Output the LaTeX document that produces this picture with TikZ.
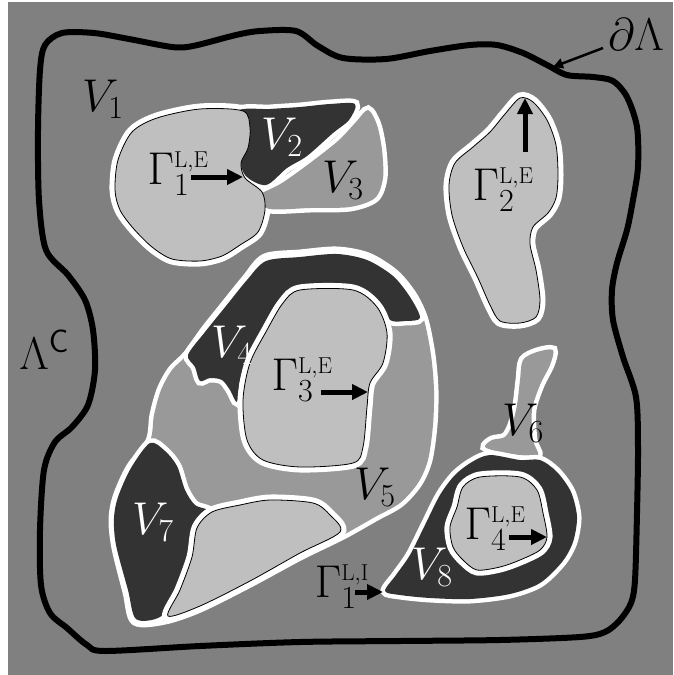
\RequirePackage{fix-cm}
\documentclass[tikz,border=0pt]{standalone}
\usetikzlibrary{arrows.meta}

\definecolor{bggray}{gray}{0.5}
\definecolor{lightgr}{gray}{0.75}
\definecolor{midgr}{gray}{0.6}
\definecolor{darkgr}{gray}{0.2}

% outlines of the regions (pixel coordinates, y downwards)
\def\pBd{plot[smooth cycle, tension=0.5] coordinates {(40,70) (45,45) (62,33) (94,33) (129,39) (172,47) (193,46) (236,35) (260,31) (296,31) (318,46) (343,58) (386,59) (430,51) (470,45) (497,45) (523,53) (547,65) (567,75) (593,77) (613,81) (627,97) (637,127) (638,167) (633,200) (627,230) (617,263) (612,290) (613,320) (623,357) (636,397) (638,447) (637,513) (635,580) (631,603) (620,620) (605,632) (580,637) (500,640) (400,641) (300,642) (200,646) (105,651) (87,645) (67,628) (50,613) (41,585) (40,530) (44,470) (55,442) (72,427) (88,405) (95,370) (93,330) (85,300) (68,275) (46,250) (39,200) (38,130)}}
\def\pGi{plot[smooth cycle] coordinates {(115,190) (118,160) (132,132) (157,118) (200,109) (243,111) (250,128) (248,148) (241,163) (245,178) (262,192) (265,210) (258,232) (240,245) (222,256) (200,261) (172,259) (152,247) (133,228) (120,210)}}
\def\pVii{plot[smooth cycle] coordinates {(236,112) (270,109) (300,107) (330,104) (355,104) (349,120) (333,133) (307,156) (287,168) (266,185) (245,175) (238,150)}}
\def\pViii{plot[smooth cycle] coordinates {(255,198) (282,183) (310,163) (338,141) (356,122) (368,110) (377,125) (382,150) (383,178) (375,198) (350,207) (310,208) (270,209)}}
\def\pGii{plot[smooth cycle] coordinates {(520,98) (533,102) (547,120) (556,145) (558,175) (556,198) (548,213) (533,227) (530,244) (536,270) (540,300) (536,317) (520,323) (500,321) (490,305) (478,278) (463,247) (452,215) (449,185) (455,163) (473,147) (490,132) (505,114)}}
\def\pVv{plot[smooth cycle] coordinates {(265,258) (300,254) (337,251) (368,257) (395,274) (413,296) (424,320) (431,355) (434,390) (433,425) (428,460) (418,483) (400,503) (375,517) (343,535) (300,556) (250,583) (200,608) (165,620) (135,621) (127,592) (116,548) (113,520) (117,497) (130,468) (150,441) (154,415) (161,390) (172,370) (187,355) (205,330) (225,305) (246,279)}}
\def\pViv{plot[smooth cycle] coordinates {(188,355) (205,332) (226,306) (247,280) (266,261) (300,257) (337,254) (367,260) (393,276) (410,297) (420,318) (405,321) (390,320) (378,301) (355,288) (300,287) (277,303) (260,333) (247,360) (240,380) (237,402) (230,390) (222,380) (210,378) (200,381) (195,367)}}
\def\pGiii{plot[smooth cycle] coordinates {(300,290) (353,290) (377,307) (387,333) (383,363) (370,383) (367,407) (363,447) (353,463) (300,467) (263,460) (247,440) (243,400) (250,363) (267,330) (283,303)}}
\def\pVvii{plot[smooth cycle] coordinates {(150,443) (165,451) (177,466) (185,490) (195,505) (210,512) (196,530) (190,560) (176,595) (160,617) (136,619) (128,590) (116,545) (114,518) (118,497) (131,468)}}
\def\pLb{plot[smooth cycle] coordinates {(212,512) (240,505) (270,500) (313,503) (330,515) (340,532) (300,553) (250,581) (200,606) (168,616) (180,590) (192,557) (197,528)}}
\def\pVvi{plot[smooth cycle] coordinates {(523,360) (537,352) (553,350) (550,365) (540,385) (532,410) (533,440) (538,455) (520,455) (500,452) (485,447) (492,440) (505,437) (512,425) (517,405) (520,380)}}
\def\pVviii{plot[smooth cycle] coordinates {(490,455) (520,460) (540,460) (557,472) (571,492) (577,517) (573,542) (562,562) (540,583) (510,594) (470,599) (430,598) (400,595) (385,591) (396,575) (410,555) (425,525) (440,495) (455,475) (472,462)}}
\def\pGiv{plot[smooth cycle] coordinates {(480,477) (520,477) (537,490) (543,513) (547,537) (540,550) (520,560) (500,567) (477,570) (463,560) (453,547) (450,527) (457,507) (463,487)}}

\begin{document}
\begin{tikzpicture}[x=1pt, y=-1pt,
		halo/.style={draw=white, line width=11pt},
		vreg/.style={fill=#1, preaction={draw=white, line width=9pt}},
		lite/.style={fill=lightgr, draw=black, line width=0.8pt},
		greg/.style={lite, preaction={draw=white, line width=11pt}},
		lab/.style={font=\fontsize{46}{50}\selectfont, inner sep=0pt},
		garr/.style={line width=5pt, -{Triangle[length=16pt, width=15pt]}},
		barr/.style={line width=2.5pt, -{Triangle[length=10pt, width=10pt]}}
	]
	\useasboundingbox (0,0) rectangle (673,675);
	\fill[white] (0,0) rectangle (673,675);
	\fill[bggray] (8,2) rectangle (673,675);

	% boundary of Lambda
	\draw[line width=6pt] \pBd;

	% top left cluster
	\path[halo] \pGi;
	\path[vreg=midgr] \pViii;
	\path[vreg=darkgr] \pVii;
	\path[lite] \pGi;

	% top right
	\path[greg] \pGii;

	% middle cluster
	\path[vreg=midgr] \pVv;
	\path[vreg=darkgr] \pViv;
	\path[greg] \pGiii;
	\path[vreg=darkgr] \pVvii;
	\path[greg] \pLb;

	% bottom right cluster
	\path[vreg=midgr] \pVvi;
	\path[vreg=darkgr] \pVviii;
	\path[greg] \pGiv;

	% labels
	\node[lab] (v1) at (103,99) {$V_1$};
	\node[lab, text=white] (v2) at (282,137) {$V_2$};
	\node[lab] (v3) at (343,180) {$V_3$};
	\node[lab, text=white] (v4) at (232,345) {$V_4$};
	\node[lab] (v5) at (375,487) {$V_5$};
	\node[lab] (v6) at (523,423) {$V_6$};
	\node[lab, text=white] (v7) at (153,522) {$V_7$};
	\node[lab, text=white] (v8) at (432,567) {$V_8$};
	\node[lab] (g1) at (178,174) {$\Gamma_1^{\scriptscriptstyle\mathrm{L,E}}$};
	\node[lab] (g2) at (503,190) {$\Gamma_2^{\scriptscriptstyle\mathrm{L,E}}$};
	\node[lab] (g3) at (302,380) {$\Gamma_3^{\scriptscriptstyle\mathrm{L,E}}$};
	\node[lab] (g4) at (495,529) {$\Gamma_4^{\scriptscriptstyle\mathrm{L,E}}$};
	\node[lab] (gi) at (342,587) {$\Gamma_1^{\scriptscriptstyle\mathrm{L,I}}$};
	\node[lab] (lc) at (44,350) {$\Lambda^{\mathsf{C}}$};
	\node[lab] (dl) at (636,35) {$\partial\Lambda$};

	% arrows
	\coordinate (a1s) at (191,177); \coordinate (a1e) at (243,177);
	\coordinate (a2s) at (525,152); \coordinate (a2e) at (525,98);
	\coordinate (a3s) at (321,392); \coordinate (a3e) at (368,392);
	\coordinate (a4s) at (509,537); \coordinate (a4e) at (547,537);
	\coordinate (a5s) at (355,592); \coordinate (a5e) at (383,592);
	\coordinate (ads) at (603,48); \coordinate (ade) at (553,67);
	\draw[garr] (a1s) -- (a1e);
	\draw[garr] (a2s) -- (a2e);
	\draw[garr] (a3s) -- (a3e);
	\draw[garr] (a4s) -- (a4e);
	\draw[garr] (a5s) -- (a5e);
	\draw[barr] (ads) -- (ade);
\end{tikzpicture}
\end{document}
